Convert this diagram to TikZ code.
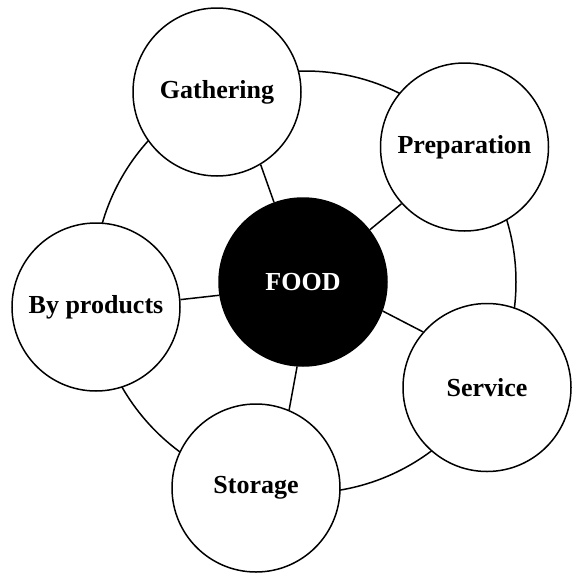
\documentclass[tikz,border=0pt]{standalone}
\usepackage{fontspec}
\setmainfont{Liberation Serif}
\begin{document}
\begin{tikzpicture}[x=1pt,y=-1pt,
  lw/.style={line width=1.5pt},
  stage/.style={circle,draw,lw,fill=white,minimum size=168pt,inner sep=0pt,
    font=\fontsize{26}{30}\selectfont\bfseries},
  hub/.style={stage,fill=black,text=white},
  spoke/.style={lw}]
\useasboundingbox (0,0) rectangle (571,573);
% outer ring joining the stages
\coordinate (ctr) at (305,282);
\draw[lw] (ctr) circle[radius=211];
% centre and the five stages
\node[hub]   (food) at (303,282)   {FOOD};
\node[stage] (gath) at (217,92)    {Gathering};
\node[stage] (prep) at (464.5,147) {Preparation};
\node[stage] (serv) at (487,387.5) {Service};
\node[stage] (stor) at (256,488)   {Storage};
\node[stage] (bypr) at (96,307)    {By products};
% spokes from the centre to each stage
\draw[spoke] (food.110.4) -- (gath.-59.5);
\draw[spoke] (food.38.3)  -- (prep.-138);
\draw[spoke] (food.-20.7) -- (serv.139);
\draw[spoke] (food.-94.5) -- (stor.67.7);
\draw[spoke] (food.189.2) -- (bypr.5.8);
\end{tikzpicture}
\end{document}
